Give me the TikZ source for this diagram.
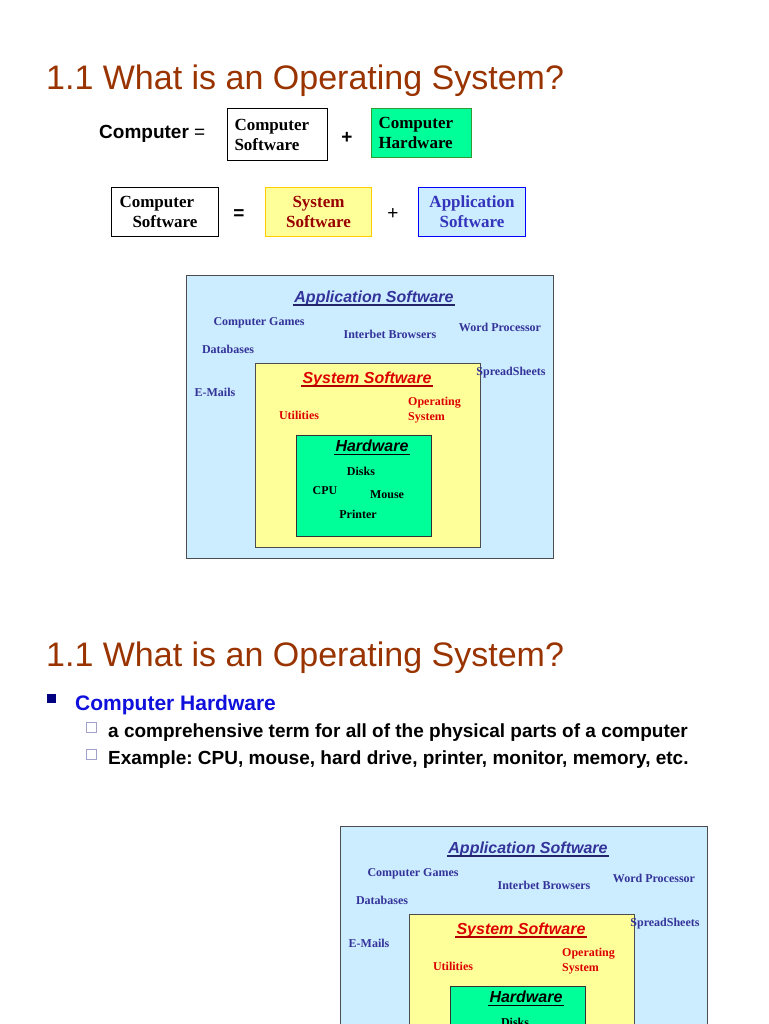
\documentclass[tikz,border=0pt]{standalone}
\usepackage{fontspec}
\setmainfont{Liberation Serif}
\setsansfont{Liberation Sans}
\frenchspacing
\usetikzlibrary{positioning}
\definecolor{osTitle}{HTML}{993300}
\definecolor{osAppFill}{HTML}{CCECFF}
\definecolor{osAppInk}{HTML}{333399}
\definecolor{osSysFill}{HTML}{FFFF99}
\definecolor{osSysInk}{HTML}{DD0000}
\definecolor{osHwFill}{HTML}{00FF99}
\definecolor{osHwLine}{HTML}{339933}
\definecolor{osGold}{HTML}{FFCC00}
\definecolor{osDarkRed}{HTML}{990000}
\definecolor{osBlue}{HTML}{0000FF}
\definecolor{osBlueInk}{HTML}{3333BB}
\definecolor{osHeading}{HTML}{1010DD}
\definecolor{osNavy}{HTML}{000080}
\definecolor{osFrame}{HTML}{4D4D4D}
\definecolor{osHollow}{HTML}{A0A0C8}
\tikzset{
  os slide/.style={x=1pt, y=-1pt},
  os title/.style={font=\sffamily\fontsize{34}{40}\selectfont, text=osTitle,
    anchor=base west, inner sep=0pt},
  os op/.style={font=\sffamily\fontsize{19}{22}\selectfont, inner sep=0pt},
  os term/.style={font=\bfseries\fontsize{17}{20}\selectfont, draw,
    line width=1pt, inner ysep=0pt, anchor=north west},
  os layer/.style={draw=osFrame, line width=0.8pt, anchor=north west,
    inner sep=0pt},
  os head/.style={font=\sffamily\bfseries\itshape\fontsize{16}{19}\selectfont,
    inner sep=1pt},
  os under/.style={line width=1.5pt},
  os item/.style={font=\bfseries\fontsize{12}{15}\selectfont, inner sep=0pt},
  os bullet/.style={font=\sffamily\bfseries\fontsize{19}{22}\selectfont,
    anchor=base west, inner sep=0pt},
  os square/.style={minimum size=10pt, inner sep=0pt},
}
\begin{document}
\begin{tikzpicture}[os slide]
\useasboundingbox (0,0) rectangle (768,1024);
\clip (0,0) rectangle (768,1024);
\fill[white] (0,0) rectangle (768,1024);
% first slide
\node[os title] (title1) at (46,90) {1.1 What is an Operating System?};
\node[os op, anchor=base west] (comp) at (99,139) {\bfseries Computer \mdseries=};
\node[os term, fill=white, inner xsep=7pt, text width=86pt, align=left,
  minimum height=52pt] (sw1) at (227,108) {Computer\\Software};
\node[os op, font=\sffamily\bfseries\fontsize{19}{22}\selectfont] (plus1) at (347,138) {+};
\node[os term, fill=osHwFill, draw=osHwLine, inner xsep=7pt, text width=86pt,
  align=left, minimum height=49pt] (hw1) at (371,108) {Computer\\Hardware};
\node[os term, fill=white, inner xsep=8pt, text width=91pt, align=left,
  minimum height=49pt] (sw2) at (111,187) {Computer\\\hspace*{13pt}Software};
\node[os op, font=\sffamily\bfseries\fontsize{19}{22}\selectfont] (eq) at (239,215) {=};
\node[os term, fill=osSysFill, draw=osGold, text=osDarkRed, inner xsep=4pt,
  text width=98pt, align=center, minimum height=49pt] (sys2) at (265,187) {System\\Software};
\node[os op] (plus2) at (393,214) {+};
\node[os term, fill=osAppFill, draw=osBlue, text=osBlueInk, inner xsep=4pt,
  text width=99pt, align=center, minimum height=49pt] (app2) at (418,187) {Application\\Software};
% second slide
\node[os title] (title2) at (46,666) {1.1 What is an Operating System?};
\node[os square, fill=osNavy, minimum size=9pt] (sq0) at (51.5,698) {};
\node[os bullet, text=osHeading, font=\sffamily\bfseries\fontsize{21}{24}\selectfont]
  (hwhead) at (75,710) {Computer Hardware};
\node[os square, draw=osHollow, line width=0.7pt] (sq1) at (91,727) {};
\node[os bullet] (line1) at (108,737) {a comprehensive term for all of the physical parts of a computer};
\node[os square, draw=osHollow, line width=0.7pt] (sq2) at (91,754) {};
\node[os bullet] (line2) at (108,764) {Example: CPU, mouse, hard drive, printer, monitor, memory, etc.};
% layered diagrams
\foreach \d/\ox/\oy in {a/186/275, b/340/826} {
  \begin{scope}[shift={(\ox,\oy)}]
    \node[os layer, fill=osAppFill, minimum width=367pt, minimum height=283pt]
      (app-\d) at (0,0) {};
    \node[os head, text=osAppInk] (apptitle-\d) at (188,23) {Application Software};
    \draw[os under, draw=osAppInk!70!black] ([yshift=-3pt]apptitle-\d.base west)
      -- ([yshift=-3pt]apptitle-\d.base east);
    \node[os item, text=osAppInk] (games-\d) at (73,48) {Computer Games};
    \node[os item, text=osAppInk] (browse-\d) at (204,59) {Interbet Browsers};
    \node[os item, text=osAppInk] (word-\d) at (314,52) {Word Processor};
    \node[os item, text=osAppInk] (db-\d) at (42,74) {Databases};
    \node[os item, text=osAppInk] (mail-\d) at (29,117) {E-Mails};
    \node[os layer, fill=osSysFill, minimum width=225pt, minimum height=184pt]
      (sys-\d) at (69,88) {};
    \node[os item, text=osAppInk] (sheet-\d) at (325,98) {SpreadSheets};
    \node[os head, text=osSysInk] (systitle-\d) at (181,104) {System Software};
    \draw[os under, draw=osSysInk!80!black] ([yshift=-3pt]systitle-\d.base west)
      -- ([yshift=-3pt]systitle-\d.base east);
    \node[os item, text=osSysInk] (util-\d) at (113,140) {Utilities};
    \node[os item, text=osSysInk, anchor=west, align=left] (opsys-\d) at (222,135)
      {Operating\\System};
    \node[os layer, fill=osHwFill, draw=black!80, minimum width=135pt,
      minimum height=101pt] (hw-\d) at (110,160) {};
    \node[os head] (hwtitle-\d) at (186,171) {Hardware};
    \draw[os under] ([yshift=-3pt]hwtitle-\d.base west)
      -- ([yshift=-3pt]hwtitle-\d.base east);
    \node[os item] (disk-\d) at (175,196) {Disks};
    \node[os item] (cpu-\d) at (139,216) {CPU};
    \node[os item] (mouse-\d) at (201,220) {Mouse};
    \node[os item] (print-\d) at (172,239) {Printer};
  \end{scope}
}
\end{tikzpicture}
\end{document}
